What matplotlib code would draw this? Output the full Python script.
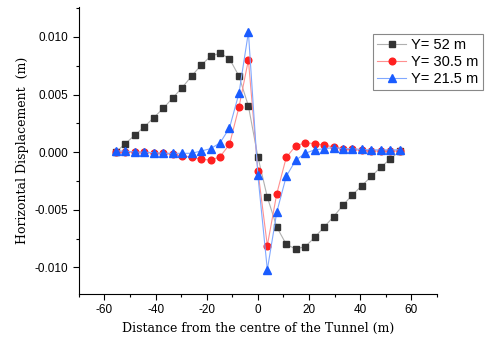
import numpy as np
import matplotlib.pyplot as plt
from matplotlib.ticker import MultipleLocator

plt.rcParams['axes.unicode_minus'] = False

# distancia ao centro do tunel (m)
x = [-55.5, -51.8, -48.1, -44.4, -40.7, -37.0, -33.3, -29.6, -25.9, -22.2,
     -18.5, -14.8, -11.1, -7.4, -3.7, 0.0, 3.7, 7.4, 11.1, 14.8,
     18.5, 22.2, 25.9, 29.6, 33.3, 37.0, 40.7, 44.4, 48.1, 51.8, 55.5]

y52 = [0.0000, 0.00075, 0.00148, 0.0022, 0.0030, 0.0038, 0.0047, 0.0056, 0.0066, 0.00755,
       0.0083, 0.0086, 0.0081, 0.0066, 0.0040, -0.0004, -0.0039, -0.0065, -0.0080, -0.0084,
       -0.0082, -0.0074, -0.0065, -0.0056, -0.0046, -0.0037, -0.0029, -0.0021, -0.0013, -0.0006, 0.0001]

y30 = [0.0000, 0.0000, 0.0000, 0.0000, -0.0001, -0.0001, -0.0002, -0.0003, -0.00046, -0.0006,
       -0.0007, -0.0004, 0.00067, 0.0039, 0.0080, -0.0016, -0.0081, -0.0036, -0.00046, 0.00055,
       0.0008, 0.00075, 0.0006, 0.00046, 0.0003, 0.00023, 0.00015, 0.0001, 0.0001, 0.0001, 0.0001]

y21 = [0.0001, 0.0001, 0.0000, 0.0000, -0.00005, -0.0001, -0.0001, -0.0001, -0.0001, 0.0001,
       0.0003, 0.0008, 0.0021, 0.0051, 0.0104, -0.0020, -0.0102, -0.0052, -0.0021, -0.0007,
       -0.0001, 0.0002, 0.0003, 0.0004, 0.0003, 0.0003, 0.00023, 0.0002, 0.0002, 0.0002, 0.0002]

fig = plt.figure(figsize=(4.87, 3.45), dpi=100)
ax = fig.add_axes([0.162, 0.148, 0.735, 0.832])

ax.plot(x, y52, '-s', color='#b0b0b0', lw=0.8, ms=4.2,
        markerfacecolor='#333333', markeredgecolor='#333333', label='Y= 52 m')
ax.plot(x, y30, '-o', color='#ff9090', lw=0.8, ms=4.8,
        markerfacecolor='#ff2020', markeredgecolor='#ff2020', label='Y= 30.5 m')
ax.plot(x, y21, '-^', color='#80a8ff', lw=0.8, ms=5.3,
        markerfacecolor='#1a5cff', markeredgecolor='#1a5cff', label='Y= 21.5 m')

ax.set_xlim(-70, 70)
ax.set_ylim(-0.0123, 0.0126)
ax.xaxis.set_major_locator(MultipleLocator(20))
ax.xaxis.set_minor_locator(MultipleLocator(10))
ax.yaxis.set_major_locator(MultipleLocator(0.005))
ax.yaxis.set_minor_locator(MultipleLocator(0.0025))
ax.yaxis.set_major_formatter(lambda v, p: f'{v:.3f}')

ax.spines['top'].set_visible(False)
ax.spines['right'].set_visible(False)
ax.tick_params(which='major', direction='out', length=4, width=0.8, labelsize=8.5)
ax.tick_params(which='minor', direction='out', length=2, width=0.8)
for lab in ax.get_xticklabels() + ax.get_yticklabels():
    lab.set_family('Liberation Sans')

ax.set_xlabel('Distance from the centre of the Tunnel (m)', family='DejaVu Serif', fontsize=9)
ax.set_ylabel('Horizontal Displacement  (m)', family='DejaVu Serif', fontsize=9)

leg = ax.legend(loc='upper left', bbox_to_anchor=(0.821, 0.906), borderaxespad=0,
                fancybox=False, prop={'family': 'Liberation Sans', 'size': 10.5},
                handlelength=2.0, borderpad=0.3, labelspacing=0.2, handletextpad=0.35,
                framealpha=1)
leg.get_frame().set_edgecolor('#888888')
leg.get_frame().set_linewidth(0.8)

fig.savefig('out.png', dpi=100)
